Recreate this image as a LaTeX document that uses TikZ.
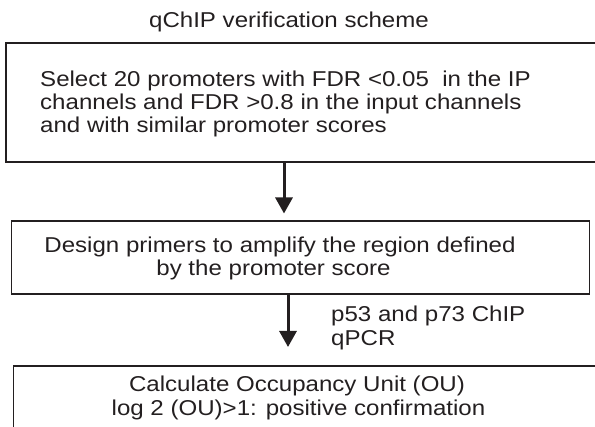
\documentclass[tikz,border=0pt]{standalone}
\usepackage{fontspec}
\setmainfont{Liberation Sans}[FakeStretch=1.12]
\usetikzlibrary{arrows.meta}
\definecolor{ink}{RGB}{35,31,32}
\begin{document}
\begin{tikzpicture}[x=1pt,y=-1pt,
  txt/.style={inner sep=0pt,text=ink,font=\fontsize{21.5pt}{23pt}\selectfont},
  boxa/.style={draw=ink,line width=2.2pt,rectangle,inner sep=0pt},
  boxb/.style={draw=ink,line width=1.6pt,rectangle,inner sep=0pt},
  flow/.style={draw=ink,line width=3pt,-{Triangle[length=16pt,width=17pt]}}]
\useasboundingbox (0,0) rectangle (595,427);
\clip (0,0) rectangle (595,427);
% title
\node[txt,anchor=base] (title) at (289,28) {qChIP verification scheme};
% box 1
\node[boxa,minimum width=600pt,minimum height=119pt] (b1) at (306,102.5) {};
\node[txt,anchor=base west] (t1a) at (40,87) {Select 20 promoters with FDR <0.05\ \ in the IP};
\node[txt,anchor=base west] (t1b) at (40,110) {channels and FDR >0.8 in the input channels};
\node[txt,anchor=base west] (t1c) at (40,133) {and with similar promoter scores};
% box 2
\node[boxb,minimum width=578pt,minimum height=73pt] (b2) at (300.5,257.5) {};
\node[txt,anchor=base] (t2a) at (280,253) {Design primers to amplify the region defined};
\node[txt,anchor=base] (t2b) at (273.5,276) {by the promoter score};
% box 3
\node[boxb,minimum width=600pt,minimum height=100pt] (b3) at (313.5,416) {};
\node[txt,anchor=base] (t3a) at (297,392) {Calculate Occupancy Unit (OU)};
\node[txt,anchor=base] (t3b) at (298.5,416) {log 2 (OU)>1: positive confirmation};
% arrows
\coordinate (e1) at (284,213.5);
\coordinate (e2) at (288,347);
\draw[flow] (b1.south -| e1) -- (e1);
\draw[flow] (b2.south -| e2) -- (e2);
% arrow label
\node[txt,anchor=base west] (la) at (331,322) {p53 and p73 ChIP};
\node[txt,anchor=base west] (lb) at (331,346) {qPCR};
\end{tikzpicture}
\end{document}
